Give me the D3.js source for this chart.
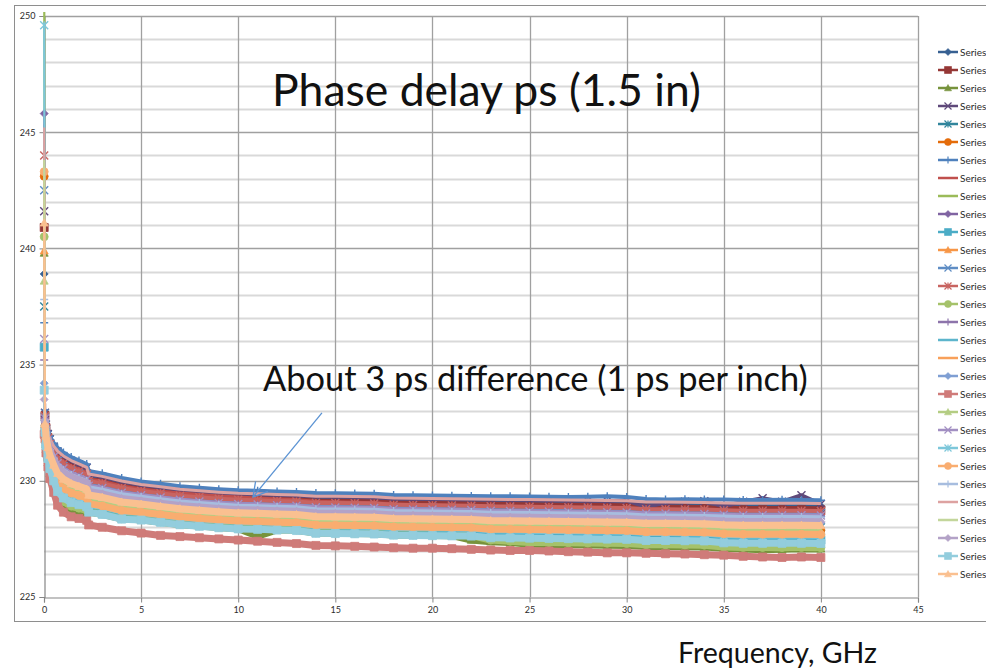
<!DOCTYPE html>
<html>
<head>
<meta charset="utf-8">
<script src="https://cdn.jsdelivr.net/npm/d3@7"></script>
<style>
  html, body { margin: 0; padding: 0; background: #ffffff; overflow: hidden; }
  svg { display: block; font-family: Lato, "Open Sans", "Noto Sans", sans-serif; }
</style>
</head>
<body>
<svg id="chart" width="986" height="670"></svg>
<script>
// Sweep frequencies (GHz), shared by every trace
const freqGHz = [0.01, 0.05, 0.1, 0.2, 0.3, 0.5, 0.7, 1, 1.4, 1.8, 2.2, 2.3, 3, 4, 5, 6, 7, 8, 9, 10,
  11, 12, 13, 14, 15, 16, 17, 18, 19, 20, 21, 22, 23, 24, 25, 26, 27, 28, 29, 30,
  31, 32, 33, 34, 35, 36, 37, 38, 39, 40];

// Phase delay (ps) of each measured trace
const delay01 = [238.9, 232.88, 232.37, 231.95, 231.72, 231.39, 231.15, 230.94, 230.74, 230.60, 230.46, 230.17, 230.07, 229.87, 229.73, 229.63, 229.53, 229.46, 229.40, 229.35, 229.33, 229.30, 229.28, 229.23, 229.22, 229.21, 229.20, 229.15, 229.14, 229.13, 229.12, 229.11, 229.09, 229.08, 229.07, 229.06, 229.05, 229.04, 229.03, 229.02, 228.97, 228.97, 228.96, 228.95, 228.93, 228.91, 228.91, 228.91, 228.91, 228.90];
const delay02 = [240.9, 232.81, 232.29, 231.86, 231.61, 231.26, 231.01, 230.79, 230.59, 230.45, 230.32, 230.03, 229.93, 229.73, 229.60, 229.50, 229.40, 229.33, 229.27, 229.22, 229.20, 229.17, 229.15, 229.09, 229.08, 229.07, 229.06, 229.01, 229.00, 228.99, 228.98, 228.97, 228.95, 228.94, 228.93, 228.92, 228.91, 228.90, 228.89, 228.88, 228.83, 228.83, 228.82, 228.81, 228.78, 228.76, 228.76, 228.76, 228.76, 228.75];
const delay03 = [239.8, 231.94, 231.36, 230.78, 230.32, 229.75, 229.24, 228.96, 228.76, 228.68, 228.59, 228.66, 228.56, 228.36, 228.32, 228.22, 228.12, 228.05, 227.99, 227.94, 227.62, 227.89, 227.87, 227.75, 227.74, 227.73, 227.72, 227.67, 227.66, 227.65, 227.64, 227.45, 227.38, 227.34, 227.27, 227.26, 227.25, 227.24, 227.23, 227.22, 227.17, 227.17, 227.16, 227.15, 227.10, 227.06, 227.03, 227.05, 227.08, 227.07];
const delay04 = [241.6, 232.93, 232.42, 232.01, 231.79, 231.47, 231.25, 231.05, 230.85, 230.70, 230.56, 230.27, 230.17, 229.97, 229.82, 229.72, 229.62, 229.55, 229.49, 229.44, 229.42, 229.39, 229.37, 229.32, 229.31, 229.30, 229.29, 229.24, 229.23, 229.22, 229.21, 229.20, 229.19, 229.18, 229.17, 229.16, 229.15, 229.14, 229.13, 229.15, 228.88, 229.05, 229.10, 229.12, 228.90, 229.10, 229.25, 229.10, 229.38, 229.00];
const delay05 = [237.5, 232.44, 231.89, 231.39, 231.05, 230.61, 230.25, 230.00, 229.80, 229.69, 229.57, 229.32, 229.22, 229.02, 228.93, 228.83, 228.73, 228.66, 228.60, 228.55, 228.53, 228.50, 228.48, 228.39, 228.38, 228.37, 228.36, 228.31, 228.30, 228.29, 228.28, 228.27, 228.22, 228.21, 228.20, 228.19, 228.18, 228.17, 228.16, 228.15, 228.10, 228.10, 228.09, 228.08, 228.03, 228.01, 228.01, 228.01, 228.01, 228.00];
const delay06 = [243.1, 232.38, 231.82, 231.32, 230.96, 230.51, 230.13, 229.87, 229.67, 229.57, 229.45, 229.20, 229.10, 228.90, 228.83, 228.73, 228.63, 228.56, 228.50, 228.45, 228.43, 228.40, 228.38, 228.28, 228.27, 228.26, 228.25, 228.20, 228.19, 228.18, 228.17, 228.16, 228.11, 228.10, 228.09, 228.08, 228.07, 228.06, 228.05, 228.04, 227.99, 227.99, 227.98, 227.97, 227.91, 227.89, 227.89, 227.89, 227.89, 227.88];
const delay07 = [236.8, 233.05, 232.55, 232.12, 231.92, 231.62, 231.42, 231.22, 231.02, 230.87, 230.72, 230.42, 230.32, 230.12, 229.97, 229.87, 229.77, 229.70, 229.64, 229.59, 229.57, 229.54, 229.52, 229.47, 229.46, 229.45, 229.44, 229.39, 229.38, 229.37, 229.36, 229.35, 229.34, 229.33, 229.32, 229.31, 229.30, 229.31, 229.33, 229.30, 229.22, 229.20, 229.21, 229.20, 229.19, 229.17, 229.17, 229.18, 229.17, 229.16];
const delay08 = [237.0, 232.83, 232.32, 231.89, 231.65, 231.31, 231.06, 230.84, 230.64, 230.50, 230.36, 230.08, 229.98, 229.78, 229.65, 229.55, 229.47, 229.41, 229.35, 229.30, 229.26, 229.22, 229.19, 229.12, 229.10, 229.08, 229.06, 229.01, 228.98, 228.96, 228.94, 228.92, 228.90, 228.88, 228.86, 228.84, 228.82, 228.80, 228.78, 228.76, 228.68, 228.67, 228.65, 228.63, 228.58, 228.56, 228.55, 228.53, 228.52, 228.50];
const delay09 = [252.0, 231.97, 231.38, 230.81, 230.35, 229.79, 229.29, 229.01, 228.81, 228.73, 228.64, 228.62, 228.52, 228.32, 228.28, 228.18, 228.08, 228.01, 227.95, 227.90, 227.88, 227.85, 227.83, 227.71, 227.70, 227.69, 227.68, 227.63, 227.62, 227.61, 227.60, 227.59, 227.42, 227.36, 227.31, 227.30, 227.29, 227.28, 227.27, 227.26, 227.21, 227.21, 227.20, 227.19, 227.11, 227.09, 227.05, 227.02, 227.08, 227.08];
const delay10 = [245.8, 232.70, 232.17, 231.72, 231.45, 231.07, 230.79, 230.56, 230.36, 230.23, 230.10, 229.82, 229.72, 229.52, 229.41, 229.31, 229.21, 229.14, 229.08, 229.03, 229.01, 228.98, 228.96, 228.89, 228.88, 228.87, 228.86, 228.81, 228.80, 228.79, 228.78, 228.77, 228.74, 228.73, 228.72, 228.71, 228.70, 228.69, 228.68, 228.67, 228.62, 228.62, 228.61, 228.60, 228.57, 228.55, 228.55, 228.55, 228.55, 228.54];
const delay11 = [235.75, 232.16, 231.59, 231.05, 230.64, 230.13, 229.68, 229.41, 229.21, 229.12, 229.02, 228.79, 228.69, 228.49, 228.44, 228.34, 228.24, 228.17, 228.11, 228.06, 228.04, 228.01, 227.99, 227.87, 227.86, 227.85, 227.84, 227.79, 227.78, 227.77, 227.76, 227.75, 227.69, 227.68, 227.67, 227.66, 227.65, 227.64, 227.63, 227.62, 227.57, 227.57, 227.56, 227.55, 227.48, 227.46, 227.46, 227.46, 227.46, 227.45];
const delay12 = [239.9, 232.33, 231.77, 231.26, 230.89, 230.42, 230.03, 229.77, 229.57, 229.47, 229.36, 229.11, 229.01, 228.81, 228.74, 228.64, 228.54, 228.47, 228.41, 228.36, 228.34, 228.31, 228.29, 228.19, 228.18, 228.17, 228.16, 228.11, 228.10, 228.09, 228.08, 228.07, 228.02, 228.01, 228.00, 227.99, 227.98, 227.97, 227.96, 227.95, 227.90, 227.90, 227.89, 227.88, 227.81, 227.79, 227.79, 227.79, 227.79, 227.78];
const delay13 = [242.5, 232.74, 232.21, 231.77, 231.50, 231.14, 230.86, 230.64, 230.44, 230.31, 230.17, 229.89, 229.79, 229.59, 229.47, 229.37, 229.27, 229.20, 229.14, 229.09, 229.07, 229.04, 229.02, 228.95, 228.94, 228.93, 228.92, 228.87, 228.86, 228.85, 228.84, 228.83, 228.81, 228.80, 228.79, 228.78, 228.77, 228.76, 228.75, 228.74, 228.69, 228.69, 228.68, 228.67, 228.64, 228.62, 228.62, 228.62, 228.62, 228.61];
const delay14 = [244.0, 232.78, 232.27, 231.83, 231.58, 231.22, 230.96, 230.74, 230.54, 230.41, 230.27, 229.99, 229.89, 229.69, 229.56, 229.46, 229.36, 229.29, 229.23, 229.18, 229.16, 229.13, 229.11, 229.05, 229.04, 229.03, 229.02, 228.97, 228.96, 228.95, 228.94, 228.93, 228.90, 228.89, 228.88, 228.87, 228.86, 228.85, 228.84, 228.83, 228.78, 228.78, 228.77, 228.76, 228.73, 228.71, 228.71, 228.71, 228.71, 228.70];
const delay15 = [240.5, 232.02, 231.43, 230.87, 230.42, 229.88, 229.39, 229.11, 228.91, 228.82, 228.73, 228.67, 228.57, 228.37, 228.33, 228.23, 228.13, 228.06, 228.00, 227.95, 227.93, 227.90, 227.88, 227.76, 227.75, 227.74, 227.73, 227.68, 227.67, 227.66, 227.65, 227.64, 227.45, 227.40, 227.35, 227.34, 227.33, 227.32, 227.31, 227.30, 227.25, 227.25, 227.24, 227.23, 227.15, 227.13, 227.13, 227.13, 227.13, 227.12];
const delay16 = [235.2, 232.68, 232.15, 231.69, 231.41, 231.03, 230.74, 230.51, 230.31, 230.18, 230.05, 229.78, 229.68, 229.48, 229.37, 229.27, 229.17, 229.10, 229.04, 228.99, 228.97, 228.94, 228.92, 228.84, 228.83, 228.82, 228.81, 228.76, 228.75, 228.74, 228.73, 228.72, 228.69, 228.68, 228.67, 228.66, 228.65, 228.64, 228.63, 228.62, 228.57, 228.57, 228.56, 228.55, 228.52, 228.50, 228.50, 228.50, 228.50, 228.49];
const delay17 = [234.5, 232.14, 231.56, 231.02, 230.60, 230.09, 229.64, 229.36, 229.16, 229.07, 228.97, 228.74, 228.64, 228.44, 228.39, 228.29, 228.19, 228.12, 228.06, 228.01, 227.99, 227.96, 227.94, 227.83, 227.82, 227.81, 227.80, 227.75, 227.74, 227.73, 227.72, 227.71, 227.64, 227.63, 227.62, 227.61, 227.60, 227.59, 227.58, 227.57, 227.52, 227.52, 227.51, 227.50, 227.43, 227.41, 227.41, 227.41, 227.41, 227.40];
const delay18 = [236.0, 232.30, 231.75, 231.23, 230.86, 230.38, 229.98, 229.72, 229.52, 229.42, 229.31, 229.07, 228.97, 228.77, 228.70, 228.60, 228.50, 228.43, 228.37, 228.32, 228.30, 228.27, 228.25, 228.14, 228.13, 228.12, 228.11, 228.06, 228.05, 228.04, 228.03, 228.02, 227.97, 227.96, 227.95, 227.94, 227.93, 227.92, 227.91, 227.90, 227.85, 227.85, 227.84, 227.83, 227.77, 227.75, 227.75, 227.75, 227.75, 227.74];
const delay19 = [234.2, 232.57, 232.03, 231.56, 231.25, 230.84, 230.52, 230.28, 230.08, 229.96, 229.84, 229.49, 229.39, 229.19, 229.09, 228.99, 228.89, 228.82, 228.76, 228.71, 228.69, 228.66, 228.64, 228.56, 228.55, 228.54, 228.53, 228.48, 228.47, 228.46, 228.45, 228.44, 228.40, 228.39, 228.38, 228.37, 228.36, 228.35, 228.34, 228.33, 228.28, 228.28, 228.27, 228.26, 228.22, 228.20, 228.20, 228.20, 228.20, 228.19];
const delay20 = [232.0, 231.80, 231.20, 230.60, 230.10, 229.50, 228.95, 228.65, 228.45, 228.38, 228.30, 228.10, 228.00, 227.85, 227.75, 227.65, 227.60, 227.55, 227.50, 227.45, 227.40, 227.35, 227.30, 227.22, 227.20, 227.18, 227.15, 227.12, 227.10, 227.10, 227.08, 227.05, 227.02, 227.00, 227.00, 226.98, 226.95, 226.93, 226.90, 226.90, 226.88, 226.86, 226.85, 226.82, 226.80, 226.75, 226.72, 226.70, 226.72, 226.70];
const delay21 = [238.6, 232.34, 231.78, 231.27, 230.91, 230.44, 230.05, 229.80, 229.60, 229.49, 229.38, 229.13, 229.03, 228.83, 228.76, 228.66, 228.56, 228.49, 228.43, 228.38, 228.36, 228.33, 228.31, 228.21, 228.20, 228.19, 228.18, 228.13, 228.12, 228.11, 228.10, 228.09, 228.04, 228.03, 228.02, 228.01, 228.00, 227.99, 227.98, 227.97, 227.92, 227.92, 227.91, 227.90, 227.84, 227.82, 227.82, 227.82, 227.82, 227.81];
const delay22 = [236.1, 232.68, 232.14, 231.69, 231.42, 231.04, 230.76, 230.53, 230.33, 230.20, 230.07, 229.79, 229.69, 229.49, 229.38, 229.28, 229.18, 229.11, 229.05, 229.00, 228.98, 228.95, 228.93, 228.86, 228.85, 228.84, 228.83, 228.78, 228.77, 228.76, 228.75, 228.74, 228.71, 228.70, 228.69, 228.68, 228.67, 228.66, 228.65, 228.64, 228.59, 228.59, 228.58, 228.57, 228.54, 228.52, 228.52, 228.52, 228.52, 228.51];
const delay23 = [249.6, 232.23, 231.67, 231.14, 230.75, 230.26, 229.83, 229.57, 229.37, 229.27, 229.16, 228.93, 228.83, 228.63, 228.57, 228.47, 228.37, 228.30, 228.24, 228.19, 228.17, 228.14, 228.12, 228.01, 228.00, 227.99, 227.98, 227.93, 227.92, 227.91, 227.90, 227.89, 227.83, 227.82, 227.81, 227.80, 227.79, 227.78, 227.77, 227.76, 227.71, 227.71, 227.70, 227.69, 227.62, 227.60, 227.60, 227.60, 227.60, 227.59];
const delay24 = [243.3, 232.28, 231.72, 231.20, 230.82, 230.34, 229.93, 229.67, 229.47, 229.37, 229.26, 229.02, 228.92, 228.72, 228.65, 228.55, 228.45, 228.38, 228.32, 228.27, 228.25, 228.22, 228.20, 228.10, 228.09, 228.08, 228.07, 228.02, 228.01, 228.00, 227.99, 227.98, 227.92, 227.91, 227.90, 227.89, 227.88, 227.87, 227.86, 227.85, 227.80, 227.80, 227.79, 227.78, 227.72, 227.70, 227.70, 227.70, 227.70, 227.69];
const delay25 = [237.8, 232.62, 232.09, 231.63, 231.35, 230.97, 230.68, 230.45, 230.25, 230.12, 229.99, 229.72, 229.62, 229.42, 229.31, 229.21, 229.11, 229.04, 228.98, 228.93, 228.91, 228.88, 228.86, 228.78, 228.77, 228.76, 228.75, 228.70, 228.69, 228.68, 228.67, 228.66, 228.63, 228.62, 228.61, 228.60, 228.59, 228.58, 228.57, 228.56, 228.51, 228.51, 228.50, 228.49, 228.46, 228.44, 228.44, 228.44, 228.44, 228.43];
const delay26 = [245.2, 232.94, 232.43, 232.02, 231.81, 231.49, 231.28, 231.07, 230.87, 230.73, 230.58, 230.29, 230.19, 229.99, 229.84, 229.74, 229.64, 229.57, 229.51, 229.46, 229.44, 229.41, 229.39, 229.34, 229.33, 229.32, 229.31, 229.26, 229.25, 229.24, 229.23, 229.22, 229.21, 229.20, 229.19, 229.18, 229.17, 229.16, 229.15, 229.14, 229.09, 229.09, 229.08, 229.07, 229.05, 229.03, 229.03, 229.03, 229.03, 229.02];
const delay27 = [243.8, 232.42, 231.87, 231.37, 231.03, 230.59, 230.23, 229.98, 229.78, 229.67, 229.55, 229.30, 229.20, 229.00, 228.91, 228.81, 228.71, 228.64, 228.58, 228.53, 228.51, 228.48, 228.46, 228.37, 228.36, 228.35, 228.34, 228.29, 228.28, 228.27, 228.26, 228.25, 228.20, 228.19, 228.18, 228.17, 228.16, 228.15, 228.14, 228.13, 228.08, 228.08, 228.07, 228.06, 228.01, 227.99, 227.99, 227.99, 227.99, 227.98];
const delay28 = [233.5, 232.60, 232.07, 231.60, 231.31, 230.91, 230.59, 230.36, 230.16, 230.03, 229.91, 229.54, 229.44, 229.24, 229.14, 229.04, 228.94, 228.87, 228.81, 228.76, 228.74, 228.71, 228.69, 228.61, 228.60, 228.59, 228.58, 228.53, 228.52, 228.51, 228.50, 228.49, 228.45, 228.44, 228.43, 228.42, 228.41, 228.40, 228.39, 228.38, 228.33, 228.33, 228.32, 228.31, 228.27, 228.25, 228.25, 228.25, 228.25, 228.24];
const delay29 = [233.9, 232.09, 231.51, 230.96, 230.53, 230.00, 229.54, 229.26, 229.06, 228.97, 228.88, 228.65, 228.55, 228.35, 228.31, 228.21, 228.11, 228.04, 227.98, 227.93, 227.91, 227.88, 227.86, 227.74, 227.73, 227.72, 227.71, 227.66, 227.65, 227.64, 227.63, 227.62, 227.55, 227.54, 227.53, 227.52, 227.51, 227.50, 227.49, 227.48, 227.43, 227.43, 227.42, 227.41, 227.33, 227.31, 227.31, 227.31, 227.31, 227.30];
const delay30 = [241.1, 232.47, 231.93, 231.44, 231.11, 230.68, 230.32, 230.08, 229.88, 229.76, 229.64, 229.39, 229.29, 229.09, 229.00, 228.90, 228.80, 228.73, 228.67, 228.62, 228.60, 228.57, 228.55, 228.46, 228.45, 228.44, 228.43, 228.38, 228.37, 228.36, 228.35, 228.34, 228.29, 228.28, 228.27, 228.26, 228.25, 228.24, 228.23, 228.22, 228.17, 228.17, 228.16, 228.15, 228.11, 228.09, 228.09, 228.09, 228.09, 228.08];

const seriesNames = ["Series1", "Series2", "Series3", "Series4", "Series5", "Series6", "Series7", "Series8", "Series9", "Series10",
  "Series11", "Series12", "Series13", "Series14", "Series15", "Series16", "Series17", "Series18", "Series19", "Series20",
  "Series21", "Series22", "Series23", "Series24", "Series25", "Series26", "Series27", "Series28", "Series29", "Series30"];

const xTicks = [0, 5, 10, 15, 20, 25, 30, 35, 40, 45];
const yTicks = [225, 230, 235, 240, 245, 250];
const yMinorTicks = [226, 227, 228, 229, 231, 232, 233, 234, 236, 237, 238, 239, 241, 242, 243, 244, 246, 247, 248, 249];

// Series palette and marker cycle (office-style theme colours, dark -> light)
const seriesColors = [
  "#376092", "#953735", "#77933C", "#5F497A", "#31859C", "#E46C0A",
  "#4F81BD", "#C0504D", "#9BBB59", "#8064A2", "#4BACC6", "#F79646",
  "#5F8DC4", "#C86461", "#A5C26A", "#8D74AB", "#5DB5CC", "#F8A05A",
  "#7F9FD3", "#CF7B79", "#B4CD83", "#A28FC2", "#7DC7DA", "#F9AD70",
  "#A7BDDF", "#DDA2A1", "#C3D69B", "#B3A2C7", "#93CDDD", "#FAC090"
];
const markerCycle = ["diamond", "square", "triangle", "x", "star", "circle", "plus", "none", "none"];

const allDelays = [delay01, delay02, delay03, delay04, delay05, delay06, delay07, delay08, delay09, delay10,
  delay11, delay12, delay13, delay14, delay15, delay16, delay17, delay18, delay19, delay20,
  delay21, delay22, delay23, delay24, delay25, delay26, delay27, delay28, delay29, delay30];

const series = allDelays.map((vals, i) => ({
  name: seriesNames[i],
  color: seriesColors[i],
  marker: markerCycle[i % markerCycle.length],
  points: vals.map((v, j) => [freqGHz[j], v])
}));

// ---- layout ----
const svg = d3.select("#chart");
const plot = { left: 44, right: 918, top: 16, bottom: 597 };
const x = d3.scaleLinear().domain([0, 45]).range([plot.left, plot.right]);
const y = d3.scaleLinear().domain([225, 250]).range([plot.bottom, plot.top]);

// chart frame
svg.append("rect")
  .attr("x", 14.5).attr("y", 5.5).attr("width", 1000).attr("height", 616)
  .attr("fill", "#ffffff").attr("stroke", "#8e8e8e").attr("stroke-width", 1);

// minor horizontal gridlines
svg.append("g").selectAll("line").data(yMinorTicks).join("line")
  .attr("x1", plot.left).attr("x2", plot.right)
  .attr("y1", d => Math.round(y(d)) + 0.5).attr("y2", d => Math.round(y(d)) + 0.5)
  .attr("stroke", "#d9d9d9").attr("stroke-width", 2);

// major gridlines
svg.append("g").selectAll("line").data(yTicks.filter(d => d !== 225)).join("line")
  .attr("x1", plot.left).attr("x2", plot.right)
  .attr("y1", d => Math.round(y(d)) + 0.5).attr("y2", d => Math.round(y(d)) + 0.5)
  .attr("stroke", "#a0a0a0").attr("stroke-width", 1.3);
svg.append("g").selectAll("line").data(xTicks.filter(d => d !== 0)).join("line")
  .attr("x1", d => Math.round(x(d)) + 0.5).attr("x2", d => Math.round(x(d)) + 0.5)
  .attr("y1", plot.top).attr("y2", plot.bottom)
  .attr("stroke", "#a0a0a0").attr("stroke-width", 1.3);

// axes
const yAxis = d3.axisLeft(y).tickValues(yTicks).tickSize(5).tickPadding(3).tickFormat(d3.format("d"));
const xAxis = d3.axisBottom(x).tickValues(xTicks).tickSize(5).tickPadding(4).tickFormat(d3.format("d"));
const gy = svg.append("g").attr("transform", `translate(${plot.left + 0.5},0)`).call(yAxis);
const gx = svg.append("g").attr("transform", `translate(0,${plot.bottom + 0.5})`).call(xAxis);
[gx, gy].forEach(g => {
  g.selectAll(".domain").attr("stroke", "#868686").attr("stroke-width", 1.2);
  g.selectAll(".tick line").attr("stroke", "#868686");
  g.selectAll("text").attr("fill", "#2b2b2b").style("font-size", "9px")
    .style("font-family", "Lato, 'Open Sans', sans-serif");
});
gy.selectAll(".tick text").attr("dx", "-1");

// data traces (markers at 0 GHz may overhang the value axis)
svg.append("clipPath").attr("id", "plotClip")
  .append("rect").attr("x", plot.left - 8).attr("y", plot.top - 4)
  .attr("width", plot.right - plot.left + 8).attr("height", plot.bottom - plot.top + 4);

const line = d3.line().x(d => x(d[0])).y(d => y(d[1]));

function markerPath(type, r) {
  switch (type) {
    case "diamond": return `M0,${-r}L${r},0L0,${r}L${-r},0Z`;
    case "square": return `M${-r},${-r}H${r}V${r}H${-r}Z`;
    case "triangle": return `M0,${-r}L${r},${r * 0.8}L${-r},${r * 0.8}Z`;
    case "circle": return `M${r},0A${r},${r} 0 1 1 ${-r},0A${r},${r} 0 1 1 ${r},0Z`;
    case "x": return `M${-r},${-r}L${r},${r}M${-r},${r}L${r},${-r}`;
    case "plus": return `M${-r},0H${r}M0,${-r}V${r}`;
    case "star": return `M${-r},${-r}L${r},${r}M${-r},${r}L${r},${-r}M0,${-r}V${r}`;
    default: return "";
  }
}
const strokeMarkers = new Set(["x", "plus", "star"]);

const traces = svg.append("g").attr("clip-path", "url(#plotClip)");
series.forEach(s => {
  const g = traces.append("g");
  const lw = s.marker === "none" ? 3 : (strokeMarkers.has(s.marker) ? 4 : 7);
  // low-frequency start: a thin stroke for the steep first step
  g.append("path").datum(s.points.slice(0, 2))
    .attr("d", line)
    .attr("fill", "none")
    .attr("stroke", s.color)
    .attr("stroke-width", 2.2);
  g.append("path").datum(s.points.slice(1))
    .attr("d", line)
    .attr("fill", "none")
    .attr("stroke", s.color)
    .attr("stroke-width", lw)
    .attr("stroke-linejoin", "round");
  if (s.marker !== "none") {
    const sym = markerPath(s.marker, 4);
    g.selectAll("path.mk").data(s.points.filter(d => d[1] <= 250)).join("path")
      .attr("class", "mk")
      .attr("transform", d => `translate(${x(d[0])},${y(d[1])})`)
      .attr("d", sym)
      .attr("fill", strokeMarkers.has(s.marker) ? "none" : s.color)
      .attr("stroke", s.color)
      .attr("stroke-width", strokeMarkers.has(s.marker) ? 1.4 : 0.8);
  }
});

// legend
const legend = svg.append("g");
series.forEach((s, i) => {
  const ly = 52 + i * 18;
  const g = legend.append("g").attr("transform", `translate(0,${ly})`);
  g.append("line").attr("x1", 938).attr("x2", 958).attr("y1", 0).attr("y2", 0)
    .attr("stroke", s.color).attr("stroke-width", 2.5);
  if (s.marker !== "none") {
    g.append("path").attr("transform", "translate(948,0)")
      .attr("d", markerPath(s.marker, 3.5))
      .attr("fill", strokeMarkers.has(s.marker) ? "none" : s.color)
      .attr("stroke", s.color).attr("stroke-width", strokeMarkers.has(s.marker) ? 1.2 : 0.6);
  }
  g.append("text").attr("x", 960).attr("y", 0).attr("dy", "0.35em")
    .attr("fill", "#2b2b2b").style("font-size", "10px").text(s.name);
});

// text blocks, sized to the available width
function fitText(sel, targetWidth) {
  const node = sel.node();
  const size = parseFloat(sel.style("font-size"));
  const w = node.getComputedTextLength();
  sel.style("font-size", (size * targetWidth / w).toFixed(2) + "px");
}
const title = svg.append("text").attr("x", 272).attr("y", 106)
  .attr("fill", "#111").style("font-size", "40px").text("Phase delay ps (1.5 in)");
fitText(title, 429);

const note = svg.append("text").attr("x", 263).attr("y", 391)
  .attr("fill", "#111").style("font-size", "31px").text("About 3 ps difference (1 ps per inch)");
fitText(note, 545);

const xTitle = svg.append("text").attr("x", 678).attr("y", 663)
  .attr("fill", "#111").style("font-size", "26px").text("Frequency, GHz");
fitText(xTitle, 199);

// callout arrow pointing into the trace bundle
const arrowFrom = [14.31, 232.92];
const arrowTo = [10.76, 229.30];
const ax0 = x(arrowFrom[0]), ay0 = y(arrowFrom[1]);
const ax1 = x(arrowTo[0]), ay1 = y(arrowTo[1]);
const ang = Math.atan2(ay0 - ay1, ax0 - ax1);
const headLen = 16, spread = Math.PI / 6;
const arrow = svg.append("g").attr("stroke", "#5B93D3").attr("stroke-width", 1.3).attr("fill", "none");
arrow.append("line").attr("x1", ax0).attr("y1", ay0).attr("x2", ax1).attr("y2", ay1);
arrow.append("path").attr("d",
  `M${ax1 + headLen * Math.cos(ang + spread)},${ay1 + headLen * Math.sin(ang + spread)}` +
  `L${ax1},${ay1}` +
  `L${ax1 + headLen * Math.cos(ang - spread)},${ay1 + headLen * Math.sin(ang - spread)}`);
</script>
</body>
</html>
